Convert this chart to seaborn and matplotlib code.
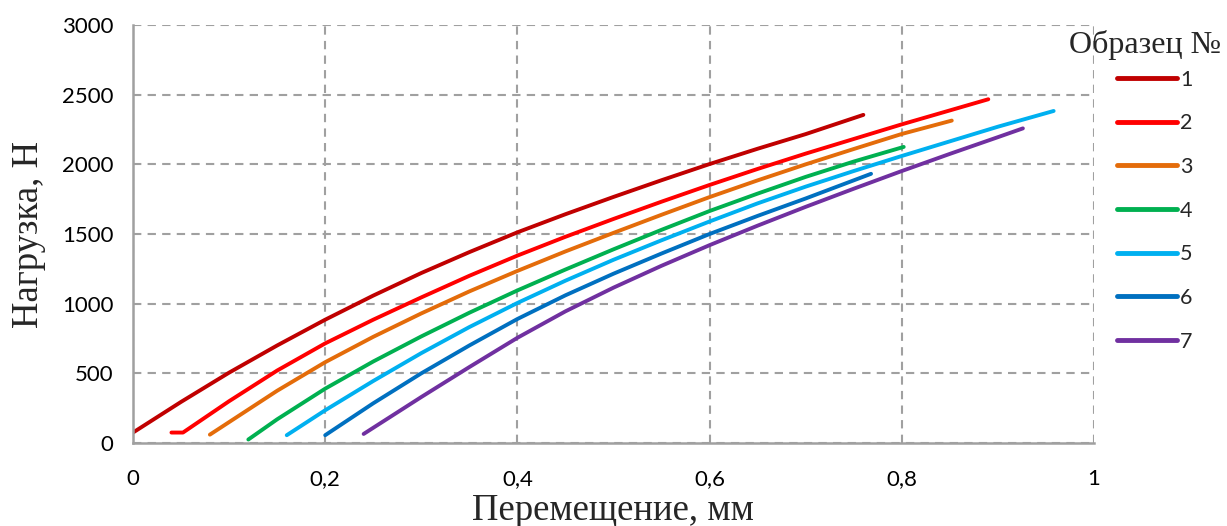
import numpy as np
import pandas as pd
import matplotlib
matplotlib.use("Agg")
import matplotlib.pyplot as plt
import seaborn as sns

# displacement (mm) and load (N), one pair of lists per sample
x1 = [0.0, 0.05, 0.1, 0.15, 0.2, 0.25, 0.3, 0.35, 0.4, 0.45, 0.5, 0.55, 0.6, 0.65, 0.7, 0.76]
y1 = [75, 295, 505, 700, 885, 1058, 1220, 1370, 1512, 1642, 1766, 1886, 2002, 2112, 2217, 2355]
x2 = [0.04, 0.052, 0.1, 0.15, 0.2, 0.25, 0.3, 0.35, 0.4, 0.45, 0.5, 0.55, 0.6, 0.65, 0.7,
      0.75, 0.8, 0.85, 0.89]
y2 = [75, 75, 300, 520, 715, 885, 1045, 1200, 1345, 1480, 1608, 1732, 1852, 1967, 2077, 2182,
      2287, 2387, 2467]
x3 = [0.08, 0.1, 0.15, 0.2, 0.25, 0.3, 0.35, 0.4, 0.45, 0.5, 0.55, 0.6, 0.65, 0.7, 0.75, 0.8,
      0.852]
y3 = [60, 150, 375, 580, 762, 930, 1088, 1235, 1375, 1508, 1638, 1765, 1885, 2000, 2110, 2218,
      2314]
x4 = [0.12, 0.15, 0.2, 0.25, 0.3, 0.35, 0.4, 0.45, 0.5, 0.55, 0.6, 0.65, 0.7, 0.75, 0.802]
y4 = [25, 170, 390, 585, 765, 935, 1095, 1245, 1390, 1530, 1665, 1790, 1910, 2020, 2125]
x5 = [0.16, 0.2, 0.25, 0.3, 0.35, 0.4, 0.45, 0.5, 0.55, 0.6, 0.65, 0.7, 0.75, 0.8, 0.85, 0.9,
      0.958]
y5 = [56, 235, 445, 645, 832, 1005, 1165, 1315, 1455, 1590, 1720, 1840, 1952, 2060, 2165,
      2270, 2383]
x6 = [0.2, 0.25, 0.3, 0.35, 0.4, 0.45, 0.5, 0.55, 0.6, 0.65, 0.7, 0.768]
y6 = [56, 285, 500, 700, 890, 1060, 1215, 1360, 1500, 1630, 1755, 1932]
x7 = [0.24, 0.3, 0.35, 0.4, 0.45, 0.5, 0.55, 0.6, 0.65, 0.7, 0.75, 0.8, 0.85, 0.9, 0.926]
y7 = [65, 330, 545, 755, 945, 1115, 1272, 1420, 1560, 1695, 1825, 1952, 2075, 2195, 2258]

samples = ["1", "2", "3", "4", "5", "6", "7"]
colors = ["#C00000", "#FF0000", "#E46C0A", "#00B050", "#00B0F0", "#0070C0", "#7030A0"]

xs = [x1, x2, x3, x4, x5, x6, x7]
ys = [y1, y2, y3, y4, y5, y6, y7]
df = pd.concat(
    [pd.DataFrame({"x": x, "y": y, "sample": s}) for x, y, s in zip(xs, ys, samples)],
    ignore_index=True,
)

sns.set_style("white")
plt.rcParams["font.family"] = ["Lato", "DejaVu Sans"]

W, H = 1227, 526
fig = plt.figure(figsize=(W / 100, H / 100), dpi=100)
ax = fig.add_axes([133 / W, 1 - 443 / H, (1094 - 133) / W, (443 - 25) / H])

sns.lineplot(data=df, x="x", y="y", hue="sample", palette=colors, sort=False,
             estimator=None, linewidth=2.8, ax=ax, legend=False)
for ln in ax.lines:
    ln.set_solid_capstyle("round")
    ln.set_solid_joinstyle("round")

ax.set_xlim(0, 1)
ax.set_ylim(0, 3000)
xt = [0, 0.2, 0.4, 0.6, 0.8, 1.0]
ax.set_xticks(xt)
ax.set_xticklabels(["0", "0,2", "0,4", "0,6", "0,8", "1"])
yt = [0, 500, 1000, 1500, 2000, 2500, 3000]
ax.set_yticks(yt)
ax.set_yticklabels([str(v) for v in yt])
ax.tick_params(axis="both", labelsize=16, color="#A0A0A0", length=7, width=1.5,
               direction="out", pad=7, labelcolor="black")
ax.tick_params(axis="x", pad=12)
ax.grid(True, color="#A0A0A0", linestyle=(0, (4, 3)), linewidth=1.5)
for side in ["top", "right"]:
    ax.spines[side].set_visible(False)
for side in ["left", "bottom"]:
    ax.spines[side].set_color("#A0A0A0")
    ax.spines[side].set_linewidth(1.8)
ax.set_axisbelow(True)
ax.set_xlabel("")
ax.set_ylabel("")

fig.text(613 / W, 1 - 520 / H, "Перемещение, мм", family="Liberation Serif",
         fontsize=26.5, ha="center", va="baseline")
fig.text(29 / W, 1 - 234 / H, "Нагрузка, Н", family="Liberation Serif",
         fontsize=26.5, ha="center", va="center", rotation=90)

handles = [plt.Line2D([], [], color=c, linewidth=3.5) for c in colors]
fig.legend(handles, samples, loc="upper left", bbox_to_anchor=(1108 / W, 1 - 61 / H),
           frameon=False, fontsize=15.5, handlelength=2.8, handletextpad=0.15,
           labelspacing=1.1, borderaxespad=0)
fig.text(1069 / W, 1 - 45 / H, "Образец №", family="Liberation Serif",
         fontsize=23, va="center", ha="left")

fig.savefig("out.png", dpi=100)
